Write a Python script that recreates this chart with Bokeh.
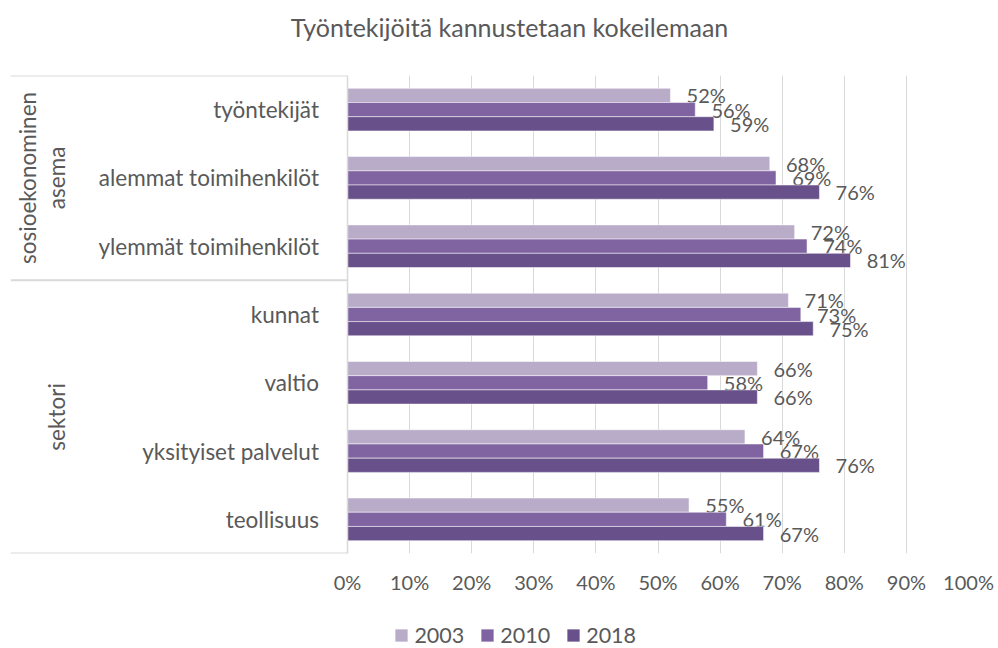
import numpy as np
from bokeh.plotting import figure
from bokeh.layouts import column
from bokeh.models import (Range1d, FixedTicker, PrintfTickFormatter, Legend,
                          LegendItem)
from bokeh.core.properties import value
from bokeh.embed import file_html
from bokeh.resources import INLINE

# ---------------- data ----------------
title_text = "Työntekijöitä kannustetaan kokeilemaan"
categories = ["työntekijät", "alemmat toimihenkilöt", "ylemmät toimihenkilöt",
              "kunnat", "valtio", "yksityiset palvelut", "teollisuus"]
group_names = [["sosioekonominen", "asema"], ["sektori"]]
group_sizes = [3, 4]
years = ["2003", "2010", "2018"]
v2003 = [52, 68, 72, 71, 66, 64, 55]
v2010 = [56, 69, 74, 73, 58, 67, 61]
v2018 = [59, 76, 81, 75, 66, 76, 67]
x_ticks = [0, 10, 20, 30, 40, 50, 60, 70, 80, 90, 100]

# ---------------- style ----------------
FONT = "Lato"
TXT = "#595959"
GRID = "#d9d9d9"
colors = ["#b8acc9", "#8064a2", "#68508a"]
X_LEFT = -54.27      # left end of the category box (data units)
BAR_H = 0.208
W, HT, H1, HL = 998, 60, 548, 40
BL, BR = 10, 30      # left / right borders of every frame (px)

idx = np.arange(len(categories))
series = [v2003, v2010, v2018]


def strip(height, y_range):
    f = figure(width=W, height=height, output_backend="svg", toolbar_location=None,
               title=None, x_axis_location=None, y_axis_location=None,
               min_border_left=BL, min_border_right=BR,
               min_border_top=0, min_border_bottom=0,
               x_range=Range1d(BL, W - BR), y_range=y_range)
    f.outline_line_color = None
    f.xgrid.visible = False
    f.ygrid.visible = False
    return f


# ---------------- title strip ----------------
pt = strip(HT, Range1d(0, HT))
pt.text(x=[509], y=[34], text=[title_text], text_align="center",
        text_baseline="alphabetic", text_font=value(FONT),
        text_font_size="25px", text_color=TXT)

# ---------------- main chart ----------------
p = figure(width=W, height=H1, output_backend="svg", toolbar_location=None,
           x_range=Range1d(X_LEFT, 100), y_range=Range1d(len(categories), 0),
           y_axis_location=None,
           min_border_left=BL, min_border_right=BR,
           min_border_top=75 - HT, min_border_bottom=HT + H1 - 553)
p.outline_line_color = None

p.xaxis.ticker = FixedTicker(ticks=x_ticks)
p.xaxis.formatter = PrintfTickFormatter(format="%d%%")
p.xaxis.axis_line_color = None
p.xaxis.major_tick_line_color = None
p.xaxis.minor_tick_line_color = None
p.xaxis.major_label_text_font = FONT
p.xaxis.major_label_text_font_size = "20px"
p.xaxis.major_label_text_color = TXT
p.xaxis.major_label_standoff = 10
p.xgrid.ticker = FixedTicker(ticks=x_ticks)
p.xgrid.grid_line_color = GRID
p.xgrid.grid_line_width = 1
p.ygrid.visible = False

for j, (vals, col) in enumerate(zip(series, colors)):
    yc = idx + 0.5 + (j - 1) * BAR_H
    p.hbar(y=yc, left=0, right=vals, height=BAR_H, fill_color=col,
           line_color="white", line_alpha=0.5, line_width=1)
    p.text(x=np.array(vals) + 2.6, y=yc, text=[f"{v}%" for v in vals],
           text_align="left", text_baseline="middle",
           text_font=value(FONT), text_font_size="20px", text_color=TXT)

p.text(x=[-4.6] * len(categories), y=idx + 0.5, text=categories,
       text_align="right", text_baseline="middle",
       text_font=value(FONT), text_font_size="22.5px", text_color=TXT)

bounds = np.concatenate([[0], np.cumsum(group_sizes)])
p.segment(x0=[X_LEFT] * len(bounds), x1=[0] * len(bounds), y0=bounds, y1=bounds,
          line_color=GRID, line_width=2)
p.segment(x0=[0], x1=[0], y0=[0], y1=[len(categories)], line_color=GRID, line_width=1.5)

gx = {1: [-46.9], 2: [-51.5, -46.8]}
for g, names in enumerate(group_names):
    yc = (bounds[g] + bounds[g + 1]) / 2
    p.text(x=gx[len(names)], y=[yc] * len(names), text=names, angle=np.pi / 2,
           text_align="center", text_baseline="middle",
           text_font=value(FONT), text_font_size="22.5px", text_color=TXT)

# ---------------- legend strip ----------------
# the strip's y range lies far from the bar data, so its bars stay out of view
pl = strip(HL, Range1d(100, 100 + HL))
leg_r = []
for j, (vals, col) in enumerate(zip(series, colors)):
    yc = idx + 0.5 + (j - 1) * BAR_H
    leg_r.append(pl.hbar(y=yc, left=0, right=vals, height=BAR_H, fill_color=col,
                         line_color="white", line_alpha=0.5))
legend = Legend(items=[LegendItem(label=y, renderers=[r]) for y, r in zip(years, leg_r)],
                orientation="horizontal", location=(383.4, 0),
                glyph_width=16, glyph_height=16, label_standoff=5, spacing=15,
                padding=0, margin=0, border_line_color=None,
                background_fill_alpha=0,
                label_text_font=FONT, label_text_font_size="21.5px",
                label_text_color=TXT)
pl.add_layout(legend)

layout = column(pt, p, pl, spacing=0)
open("out.html", "w").write(file_html(layout, INLINE))
